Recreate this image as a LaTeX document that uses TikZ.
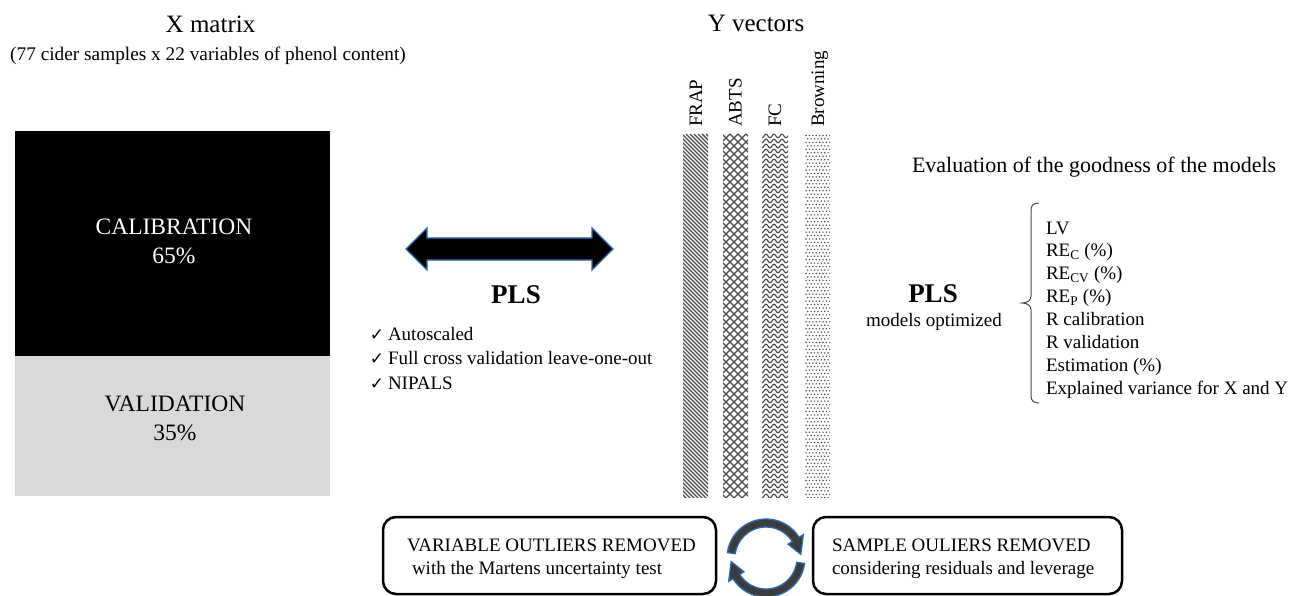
\documentclass[tikz,border=0pt]{standalone}
\usepackage{fontspec}
\setmainfont{Liberation Serif}
\newfontfamily\symfont{DejaVu Sans}
\definecolor{arrowblue}{HTML}{2E6AAE}
\definecolor{valgray}{HTML}{D9D9D9}
\definecolor{patgray}{HTML}{4A4A4A}
\definecolor{circgray}{HTML}{3C3C3C}
\begin{document}
\begin{tikzpicture}[x=1pt,y=-1pt,
  txt/.style={inner sep=0pt, outer sep=0pt, font=\fontsize{19}{22.9}\selectfont},
  title/.style={inner sep=0pt, outer sep=0pt, font=\fontsize{25}{30}\selectfont},
  big/.style={inner sep=0pt, outer sep=0pt, font=\fontsize{23.5}{28}\selectfont},
  pls/.style={inner sep=0pt, outer sep=0pt, font=\fontsize{27}{32}\selectfont\bfseries},
  check/.style={inner sep=0pt, outer sep=0pt, font=\fontsize{17}{19}\symfont},
  outbox/.style={draw, line width=2.5pt, rounded corners=13pt, inner sep=0pt},
  hatch/.style={patgray, line width=1.4pt},
  cross/.style={patgray, line width=1.1pt},
  wave/.style={patgray, line width=1.1pt},
  circarrow/.style={fill=circgray, draw=arrowblue, line width=1.3pt, line join=miter}
]
\useasboundingbox (0,0) rectangle (1293,596);
\fill[white] (0,0) rectangle (1293,596);

% ---------- X matrix ----------
\node[title, anchor=base] (xtitle) at (210.5,33) {X matrix};
\node[txt, anchor=base, font=\fontsize{19.3}{23}\selectfont] (xsub) at (208,61)
  {(77 cider samples x 22 variables of phenol content)};
\node[fill=black, inner sep=0pt, minimum width=315pt, minimum height=225pt, anchor=north west] (calbox) at (15,131) {};
\node[fill=valgray, inner sep=0pt, minimum width=315pt, minimum height=140pt, anchor=north west] (valbox) at (15,356) {};
\node[big, anchor=base, text=white] (caltxt) at (174,234) {CALIBRATION};
\node[big, anchor=base, text=white] (calpct) at (174,263) {65\%};
\node[big, anchor=base] (valtxt) at (175,411) {VALIDATION};
\node[big, anchor=base] (valpct) at (175,440) {35\%};

% ---------- double arrow ----------
\draw[fill=black, draw=arrowblue, line width=1.3pt, line join=miter]
  (406,249) -- (427,228) -- (427,238) -- (592,238) -- (592,228) -- (613,249)
  -- (592,270) -- (592,260) -- (427,260) -- (427,270) -- cycle;
\node[pls, anchor=base] (plsl) at (516,303) {PLS};
\node[check, anchor=base] (ck1) at (377,340) {✓};
\node[check, anchor=base] (ck2) at (377,364.5) {✓};
\node[check, anchor=base] (ck3) at (377,389) {✓};
\node[txt, anchor=base west] (opt1) at (388,340) {Autoscaled};
\node[txt, anchor=base west] (opt2) at (388,364.5) {Full cross validation leave-one-out};
\node[txt, anchor=base west] (opt3) at (388,389) {NIPALS};

% ---------- Y vectors ----------
\node[title, anchor=base] (ytitle) at (756,32) {Y vectors};
\node[txt, anchor=base west, rotate=90] (lfrap) at (702,127) {FRAP};
\node[txt, anchor=base west, rotate=90] (labts) at (741.5,127) {ABTS};
\node[txt, anchor=base west, rotate=90] (lfc) at (781,127) {FC};
\node[txt, anchor=base west, rotate=90] (lbrown) at (824,127) {Browning};

% FRAP bar: diagonal lines
\begin{scope}
  \clip (683,134) rectangle (708,497);
  \foreach \k in {0,...,108} { \draw[hatch] (282+\k*4,134) -- ++(400,400); }
\end{scope}
% ABTS bar: diagonal cross-hatch
\begin{scope}
  \clip (723,134) rectangle (748,497);
  \foreach \k in {0,...,54} {
    \draw[cross] (322+\k*8,134) -- ++(400,400);
    \draw[cross] (722+\k*8,134) -- ++(-400,400);
  }
\end{scope}
% FC bar: wavy lines
\begin{scope}
  \clip (762,134) rectangle (788,497);
  \foreach \k in {0,...,73} {
    \draw[wave] plot[domain=0:30, samples=31, smooth] ({760+\x}, {136+\k*5+1.8*sin(45*\x)});
  }
\end{scope}
% Browning bar: dots
\begin{scope}
  \clip (805,134) rectangle (830,497);
  \foreach \j in {0,...,53} {
    \foreach \i in {0,...,7} {
      \fill[patgray] (806+\i*3.4, 135.5+\j*6.9) circle (0.8);
      \fill[patgray] (807.7+\i*3.4, 138.95+\j*6.9) circle (0.8);
    }
  }
\end{scope}

% ---------- Evaluation ----------
\node[txt, anchor=base west, font=\fontsize{22}{26}\selectfont] (evaltitle) at (912,172.5) {Evaluation of the goodness of the models};
\node[pls, anchor=base] (plsr) at (933,302) {PLS};
\node[txt, anchor=base] (modopt) at (934,326) {models optimized};
\draw[patgray, line width=1pt]
  (1039,203) .. controls (1034,203) and (1031,205) .. (1031,210) -- (1031,296)
  .. controls (1031,300) and (1028,303) .. (1022,303)
  .. controls (1028,303) and (1031,306) .. (1031,310) -- (1031,396)
  .. controls (1031,401) and (1034,403) .. (1039,403);
\node[txt, anchor=base west] (m1) at (1046,234) {LV};
\node[txt, anchor=base west] (m2) at (1046,256.9) {RE\textsubscript{C} (\%)};
\node[txt, anchor=base west] (m3) at (1046,279.8) {RE\textsubscript{CV} (\%)};
\node[txt, anchor=base west] (m4) at (1046,302.7) {RE\textsubscript{P} (\%)};
\node[txt, anchor=base west] (m5) at (1046,325.6) {R calibration};
\node[txt, anchor=base west] (m6) at (1046,348.5) {R validation};
\node[txt, anchor=base west] (m7) at (1046,371.4) {Estimation (\%)};
\node[txt, anchor=base west] (m8) at (1046,394.3) {Explained variance for X and Y};

% ---------- bottom boxes ----------
\node[outbox, minimum width=333pt, minimum height=77pt] (varbox) at (549.5,555.5) {};
\node[txt, anchor=base west] (var1) at (407,551) {VARIABLE OUTLIERS REMOVED};
\node[txt, anchor=base west] (var2) at (412,574) {with the Martens uncertainty test};
\node[outbox, minimum width=309pt, minimum height=77pt] (sampbox) at (967.5,555.5) {};
\node[txt, anchor=base west] (samp1) at (832,551) {SAMPLE OULIERS REMOVED};
\node[txt, anchor=base west] (samp2) at (832,574) {considering residuals and leverage};

% ---------- circular arrows ----------
\begin{scope}[shift={(766,558)}, yscale=-1]
  \draw[circarrow] (172:31) arc[start angle=172, end angle=32, radius=31]
    -- (32:26) -- (6:35) -- (32:44) -- (32:39)
    arc[start angle=32, end angle=172, radius=39] -- cycle;
  \begin{scope}[rotate=180]
  \draw[circarrow] (172:31) arc[start angle=172, end angle=32, radius=31]
    -- (32:26) -- (6:35) -- (32:44) -- (32:39)
    arc[start angle=32, end angle=172, radius=39] -- cycle;
  \end{scope}
\end{scope}
\end{tikzpicture}
\end{document}
